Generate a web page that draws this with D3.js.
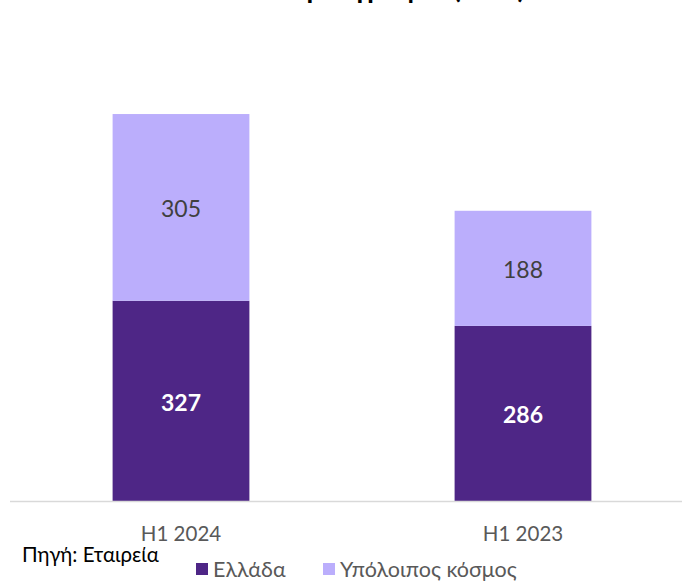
<!DOCTYPE html>
<html>
<head>
<meta charset="utf-8">
<script src="https://cdn.jsdelivr.net/npm/d3@7"></script>
<style>
  html, body { margin: 0; padding: 0; background: #ffffff; }
  svg { display: block; font-family: Lato, "Open Sans", "Noto Sans", sans-serif; }
</style>
</head>
<body>
<svg id="chart" width="682" height="581"></svg>
<script>
// Periods on the x axis
const categories = ["H1 2024", "H1 2023"];
// Series (stack order: bottom first)
const seriesNames = ["Ελλάδα", "Υπόλοιπος κόσμος"];
const greece = [327, 286];
const restOfWorld = [305, 188];
const seriesColors = ["#4e2686", "#bbaefc"];
const titleText = "Έσοδα ανά γεωγραφία (εκ. €)";
const sourceText = "Πηγή: Εταιρεία";

const svg = d3.select("#chart");

const rows = categories.map((c, i) => ({ cat: c, "Ελλάδα": greece[i], "Υπόλοιπος κόσμος": restOfWorld[i] }));
const stacked = d3.stack().keys(seriesNames)(rows);

const x = d3.scaleBand()
  .domain(categories)
  .range([10, 694])
  .paddingInner(0.6)
  .paddingOuter(0.3);

const y = d3.scaleLinear()
  .domain([0, 700])
  .range([501, 72.4]);

// Title (runs off the top edge, only its descenders show)
svg.append("text")
  .attr("x", 341)
  .attr("y", -2.5)
  .attr("text-anchor", "middle")
  .attr("font-size", 28)
  .attr("font-weight", "bold")
  .attr("fill", "#000")
  .text(titleText);

// Bars
const layers = svg.append("g").selectAll("g")
  .data(stacked)
  .join("g")
  .attr("fill", (d, i) => seriesColors[i]);

layers.selectAll("rect")
  .data(d => d)
  .join("rect")
  .attr("x", d => x(d.data.cat))
  .attr("width", x.bandwidth())
  .attr("y", d => y(d[1]))
  .attr("height", d => y(d[0]) - y(d[1]));

// Value labels
layers.each(function (layer, li) {
  d3.select(this).selectAll("text")
    .data(layer)
    .join("text")
    .attr("x", d => x(d.data.cat) + x.bandwidth() / 2)
    .attr("y", d => (y(d[0]) + y(d[1])) / 2 + 2)
    .attr("dy", "0.35em")
    .attr("text-anchor", "middle")
    .attr("font-size", 23)
    .attr("font-weight", li === 0 ? "bold" : "normal")
    .attr("fill", li === 0 ? "#ffffff" : "#404040")
    .text(d => d[1] - d[0]);
});

// Baseline
svg.append("line")
  .attr("x1", 10).attr("x2", 682)
  .attr("y1", y(0) + 0.5).attr("y2", y(0) + 0.5)
  .attr("stroke", "#d9d9d9")
  .attr("stroke-width", 1.5);

// Category axis labels
const xAxis = d3.axisBottom(x).tickSize(0).tickPadding(0);
const gx = svg.append("g")
  .attr("transform", `translate(0, ${y(0)})`)
  .call(xAxis);
gx.select(".domain").remove();
gx.selectAll("text")
  .attr("y", 33)
  .attr("dy", "0.35em")
  .attr("font-size", 20.5)
  .attr("font-family", "Lato, 'Open Sans', sans-serif")
  .attr("fill", "#595959");

// Source note
svg.append("text")
  .attr("x", 22)
  .attr("y", 555)
  .attr("dy", "0.35em")
  .attr("font-size", 20.5)
  .attr("fill", "#000")
  .text(sourceText);

// Legend
const legendX = [196, 323];
const legend = svg.append("g").selectAll("g")
  .data(seriesNames)
  .join("g")
  .attr("transform", (d, i) => `translate(${legendX[i]}, 569)`);
legend.append("rect")
  .attr("x", 0).attr("y", -6)
  .attr("width", 12).attr("height", 12)
  .attr("fill", (d, i) => seriesColors[i]);
legend.append("text")
  .attr("x", 17)
  .attr("dy", "0.35em")
  .attr("font-size", 21.5)
  .attr("fill", "#595959")
  .text(d => d);
</script>
</body>
</html>
